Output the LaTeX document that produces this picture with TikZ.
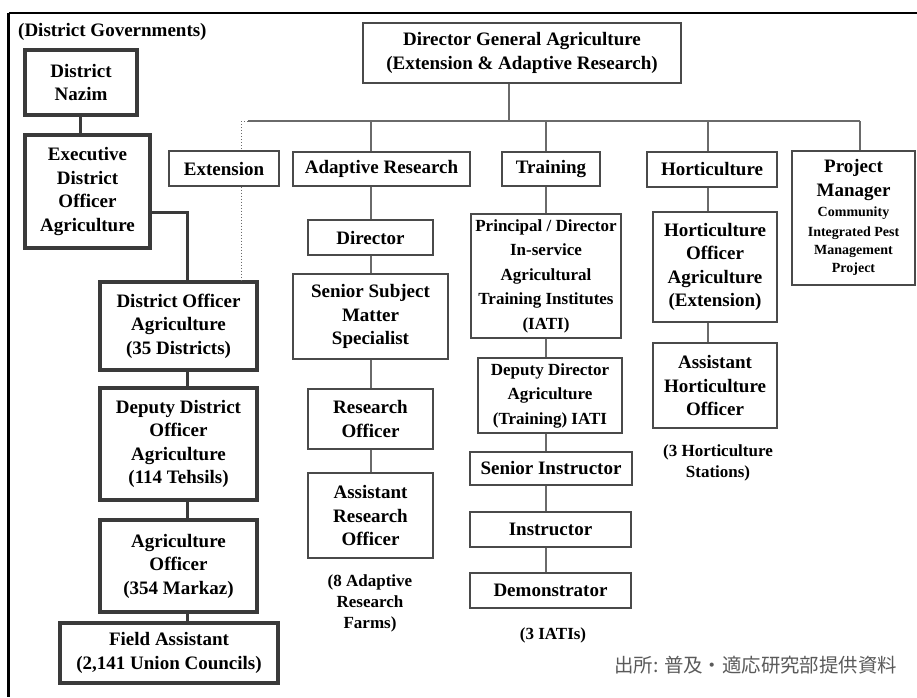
\documentclass[tikz,border=0pt]{standalone}
\usepackage{fontspec}
\setmainfont{Liberation Serif}
\newfontfamily\jpfont{Noto Sans CJK JP}
\newcommand{\boxfont}{\fontsize{19}{23.5}\selectfont\bfseries}
\newcommand{\smallboxfont}{\fontsize{17}{24.5}\selectfont\bfseries}
\newcommand{\notefont}{\fontsize{17}{21}\selectfont\bfseries}
\newcommand{\pmfont}{\fontsize{14}{17}\selectfont\bfseries}
\definecolor{boxgray}{HTML}{4A4A4A}
\definecolor{darkline}{HTML}{3A3A3A}
\definecolor{conngray}{HTML}{6A6A6A}
\definecolor{capgray}{HTML}{5A5A5A}
\tikzset{
  wh/.style 2 args={minimum width=#1pt, minimum height=#2pt},
  orgbox/.style={draw=boxgray, line width=1.3pt, fill=white, inner sep=0pt,
                 align=center, font=\boxfont},
  heavybox/.style={orgbox, draw=darkline, line width=3.4pt},
  conn/.style={draw=conngray, line width=1.2pt},
  heavyconn/.style={draw=darkline, line width=3pt},
  dotline/.style={draw=conngray, line width=1pt, dotted},
  note/.style={align=center, font=\notefont, inner sep=0pt},
  frameline/.style={draw=black, line width=2.8pt}
}
\begin{document}
\begin{tikzpicture}[x=1pt,y=-1pt]
\useasboundingbox (0,0) rectangle (917,697);

% outer frame (top and left edges)
\draw[frameline] (8.5,13) -- (917,13);
\draw[frameline] (8.5,13) -- (8.5,697);

% ---------- district government column ----------
\node[font=\boxfont, anchor=west, inner sep=0pt] (distgov) at (18,32) {(District Governments)};
\node[heavybox, wh={112}{65}] (nazim) at (81,82.5) {District\\Nazim};
\node[heavybox, wh={125}{113}] (edo) at (87.5,191.5) {Executive\\District\\Officer\\Agriculture};
\node[heavybox, wh={157}{88}] (doa) at (178.5,326) {District Officer\\Agriculture\\(35 Districts)};
\node[heavybox, wh={157}{112}] (ddoa) at (178.5,444) {Deputy District\\Officer\\Agriculture\\(114 Tehsils)};
\node[heavybox, wh={157}{92}] (ao) at (178.5,566) {Agriculture\\Officer\\(354 Markaz)};
\node[heavybox, wh={218}{60}] (fa) at (169,653) {Field Assistant\\(2,141 Union Councils)};

\coordinate (nx) at (80,0);
\coordinate (lx) at (187,212);
\draw[heavyconn] (nazim.south -| nx) -- (edo.north -| nx);
\draw[heavyconn] (edo.east |- lx) -- (lx) -- (doa.north -| lx);
\draw[heavyconn] (doa.south -| lx) -- (ddoa.north -| lx);
\draw[heavyconn] (ddoa.south -| lx) -- (ao.north -| lx);
\draw[heavyconn] (ao.south -| lx) -- (fa.north -| lx);

% ---------- head office ----------
\node[orgbox, wh={318}{60}] (dg) at (522,53) {Director General Agriculture\\(Extension \& Adaptive Research)};

\coordinate (dgx) at (509,121);
\coordinate (busL) at (248,121);
\coordinate (busR) at (860,121);
\coordinate (extx) at (241,121);
\coordinate (arx) at (371,121);
\coordinate (trx) at (546,121);
\coordinate (hox) at (708,121);

% wings
\node[orgbox, wh={110}{35}] (ext) at (224,168.5) {Extension};
\node[orgbox, wh={177}{34}] (ar) at (381.5,169) {Adaptive Research};
\node[orgbox, wh={98}{34}] (tr) at (551,169) {Training};
\node[orgbox, wh={130}{35}] (ho) at (712,169.5) {Horticulture};
\node[orgbox, wh={123}{134}] (pm) at (853.5,218)
  {\begin{tabular}{@{}c@{}}Project\\Manager\\[-3pt]
   \pmfont Community\\[-4pt]\pmfont Integrated Pest\\[-5pt]\pmfont Management\\[-6pt]\pmfont Project\end{tabular}};

% adaptive research column
\node[orgbox, wh={125}{35}] (dir) at (370.5,237.5) {Director};
\node[orgbox, wh={155}{85}] (ssms) at (370.5,316.5) {Senior Subject\\Matter\\Specialist};
\node[orgbox, wh={125}{60}] (ro) at (370.5,419) {Research\\Officer};
\node[orgbox, wh={125}{85}] (aro) at (370.5,515.5) {Assistant\\Research\\Officer};
\node[note] (arnote) at (370,603) {(8 Adaptive\\Research\\Farms)};

% training column
\node[orgbox, wh={150}{124}, font=\smallboxfont] (pd) at (546,276) {Principal / Director\\In-service\\Agricultural\\Training Institutes\\(IATI)};
\node[orgbox, wh={144}{75}, font=\smallboxfont] (dd) at (550,395.5) {Deputy Director\\Agriculture\\(Training) IATI};
\node[orgbox, wh={162}{33}] (si) at (551,468.5) {Senior Instructor};
\node[orgbox, wh={161}{35}] (ins) at (550.5,529.5) {Instructor};
\node[orgbox, wh={161}{35}] (dem) at (550.5,590.5) {Demonstrator};
\node[note] (trnote) at (553,635) {(3 IATIs)};

% horticulture column
\node[orgbox, wh={124}{110}] (hoa) at (715,267) {Horticulture\\Officer\\Agriculture\\(Extension)};
\node[orgbox, wh={124}{85}] (aho) at (715,385.5) {Assistant\\Horticulture\\Officer};
\node[note] (honote) at (718,463) {(3 Horticulture\\Stations)};

% connectors of the head office
\draw[conn] (dg.south -| dgx) -- (dgx);
\draw[conn] (busL) -- (busR);
\draw[conn] (arx) -- (ar.north -| arx);
\draw[conn] (trx) -- (tr.north -| trx);
\draw[conn] (hox) -- (ho.north -| hox);
\draw[conn] (busR) -- (pm.north -| busR);

\draw[dotline] (extx) -- (busL);
\draw[dotline] (extx) -- (ext.north -| extx);
\draw[dotline] (ext.south -| extx) -- (doa.north -| extx);

\draw[conn] (ar.south -| arx) -- (dir.north -| arx)
            (dir.south -| arx) -- (ssms.north -| arx)
            (ssms.south -| arx) -- (ro.north -| arx)
            (ro.south -| arx) -- (aro.north -| arx);

\draw[conn] (tr.south -| trx) -- (pd.north -| trx)
            (pd.south -| trx) -- (dd.north -| trx)
            (dd.south -| trx) -- (si.north -| trx)
            (si.south -| trx) -- (ins.north -| trx)
            (ins.south -| trx) -- (dem.north -| trx);

\draw[conn] (ho.south -| hox) -- (hoa.north -| hox)
            (hoa.south -| hox) -- (aho.north -| hox);

% source line
\node[anchor=west, inner sep=0pt, text=capgray, font=\jpfont\fontsize{19.4}{22}\selectfont] (src) at (614,665) {出所: 普及・適応研究部提供資料};
\end{tikzpicture}
\end{document}
